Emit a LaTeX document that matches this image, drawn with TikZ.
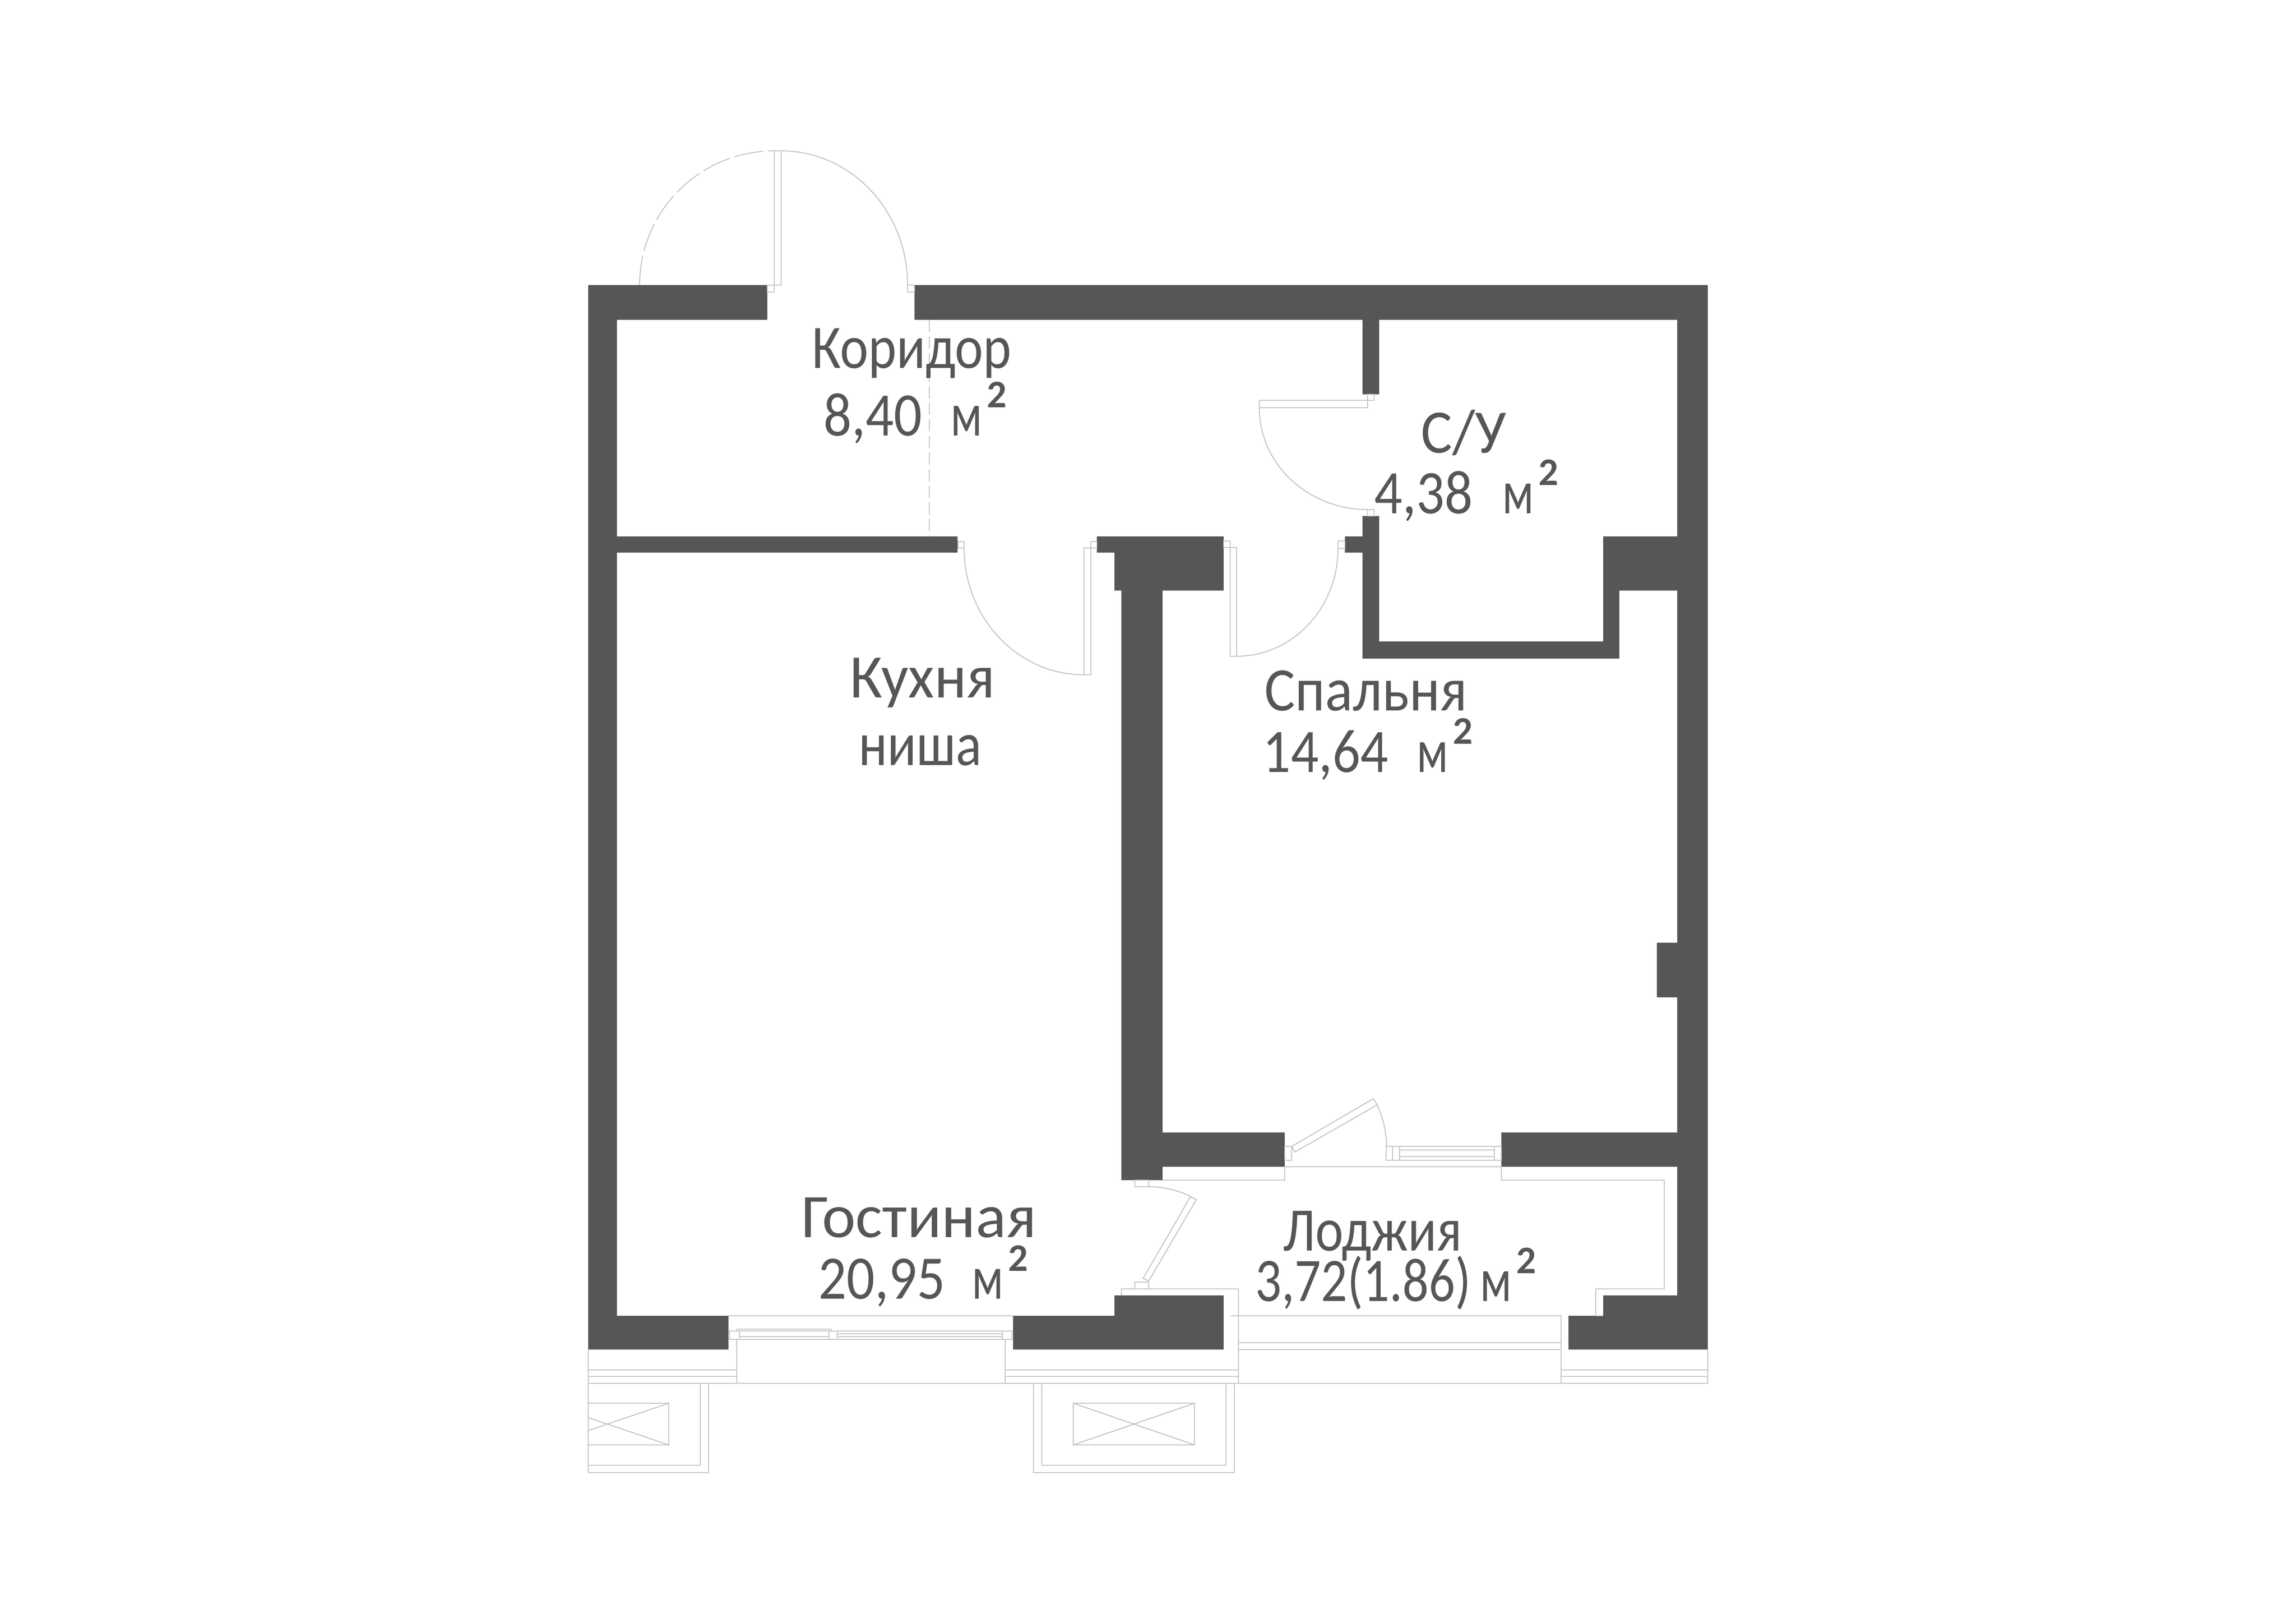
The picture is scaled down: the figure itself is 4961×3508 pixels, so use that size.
\documentclass[tikz,border=0pt]{standalone}
\usepackage{fontspec}
\usepackage{graphicx}
\setmainfont{Carlito}
\definecolor{wallgray}{HTML}{565656}
\definecolor{hairgray}{HTML}{C4C4C4}
\newcommand{\squeeze}[2]{\scalebox{#1}[1]{#2}}
\newcommand{\kvm}{\squeeze{.75}{м}\hspace{0.1cm}\raisebox{0.6cm}{\fontsize{24}{24}\selectfont\bfseries 2}}
\tikzstyle{wall} = [fill=wallgray, draw=none]
\tikzstyle{hair} = [draw=hairgray, line width=0.6pt, line join=miter]
\tikzstyle{room} = [text=wallgray, inner sep=0pt, anchor=base west, font=\fontsize{38}{38}\selectfont]

\begin{document}
\begin{tikzpicture}[x=0.01cm, y=-0.01cm]
\useasboundingbox (0,0) rectangle (4961,3508);

\foreach \xa/\ya/\xb/\yb in {
    1271/616/1658/691, 1976/616/3690/691, 1271/616/1333/2916, 3624/616/3690/2916,
    1333/1159/2069/1194, 2370/1159/2408/1194, 2408/1159/2644/1276, 2423/1276/2512/2550,
    2906/1159/2944/1194, 2944/691/2980/852, 2944/1115/2980/1423, 2944/1386/3499/1423,
    3464/1276/3499/1423, 3464/1159/3690/1276, 3580/2037/3624/2155,
    2512/2447/2776/2521, 3244/2447/3624/2521,
    1271/2843/1574/2916, 2189/2843/2408/2916, 2408/2799/2644/2916,
    3389/2843/3690/2916, 3464/2799/3690/2916}
    \fill[wall] (\xa,\ya) rectangle (\xb,\yb);

\foreach \xa/\ya/\xb/\yb in {
    1673/326/1688/616, 1658/616/1673/631, 1961/616/1976/631,
    2070/1170/2083/1184, 2342/1184/2357/1458, 2357/1170/2370/1184,
    2955/852/2969/865, 2721/865/2955/881, 2955/1101/2969/1115,
    2891/1169/2906/1185, 2644/1169/2658/1183, 2658/1183/2672/1418,
    2776/2477/2791/2507, 2995/2477/3244/2507, 3009/2477/3024/2507, 3229/2477/3244/2507,
    2452/2550/2482/2564, 2452/2770/2482/2785,
    1576/2876/1598/2894, 1791/2876/1809/2894, 2166/2876/2187/2894,
    2676/2843/3373/2989, 2319/3032/2581/3122}
    \draw[hair] (\xa,\ya) rectangle (\xb,\yb);

\draw[hair, dash pattern=on 18pt off 3pt] (1382,616) arc [start angle=180, end angle=270, x radius=291, y radius=290];
\draw[hair] (1688,326) arc [start angle=270, end angle=360, x radius=273, y radius=290];
\draw[hair] (2083,1184) arc [start angle=180, end angle=90, x radius=259, y radius=274];
\draw[hair] (2721,881) arc [start angle=180, end angle=90, x radius=234, y radius=220];
\draw[hair] (2891,1185) arc [start angle=0, end angle=90, x radius=219, y radius=233];
\draw[hair] (2975,2387) arc [start angle=-26, end angle=0, radius=205];
\draw[hair] (2482,2564) arc [start angle=-90, end angle=-63.4, radius=204];

\draw[hair, dash pattern=on 7.4pt off 2.8pt] (2008,691) -- (2008,1159);

\draw[hair] (2791,2477) -- (2967,2374) -- (2976,2387) -- (2798,2489) -- cycle;
\draw[hair] (2572,2586) -- (2585,2592) -- (2482,2768) -- (2470,2762) -- cycle;

\draw[hair] (2423,2799) -- (2423,2785) -- (2676,2785) -- (2676,2843) -- (2659,2843);
\draw[hair] (2512,2550) -- (2776,2550) -- (2776,2521) -- (3244,2521) -- (3244,2550)
    -- (3596,2550) -- (3596,2785) -- (3448,2785) -- (3448,2843) -- (3464,2843);
\draw[hair] (3024,2485) -- (3229,2485) (3024,2499) -- (3229,2499);
\draw[hair] (2676,2901) -- (3373,2901) (2676,2916) -- (3373,2916);

\draw[hair] (1574,2843) -- (2189,2843);
\draw[hair] (1592,2876) -- (1592,2872) -- (1796,2872) -- (1796,2876);
\foreach \yy in {2876,2888,2894}
    \draw[hair] (1598,\yy) -- (1791,\yy);
\foreach \yy in {2876,2882,2888,2894}
    \draw[hair] (1809,\yy) -- (2166,\yy);
\draw[hair] (1592,2894) -- (1592,2989) (2172,2894) -- (2172,2989);

\foreach \yy in {2960,2974,2989} {
    \draw[hair] (1271,\yy) -- (1592,\yy);
    \draw[hair] (2172,\yy) -- (2676,\yy);
    \draw[hair] (3373,\yy) -- (3690,\yy);
}
\draw[hair] (1592,2989) -- (2172,2989);
\draw[hair] (3690,2916) -- (3690,2989);

\draw[hair] (1271,2916) -- (1271,3182) -- (1531,3182) -- (1531,2989);
\draw[hair] (1271,3166) -- (1513,3166) -- (1513,2989);
\draw[hair] (1271,3032) -- (1445,3032) -- (1445,3122) -- (1271,3122);
\draw[hair] (1445,3032) -- (1271,3091) (1445,3122) -- (1271,3063);

\draw[hair] (2233,2989) -- (2233,3182) -- (2667,3182) -- (2667,2989);
\draw[hair] (2251,2989) -- (2251,3166) -- (2649,3166) -- (2649,2989);
\draw[hair] (2319,3032) -- (2581,3122) (2581,3032) -- (2319,3122);

\node[room] (koridor) at (1754,795) {\squeeze{.865}{Коридор}};
\node[room] (koridorarea) at (1779,941) {\squeeze{.9}{8,40}\hspace{0.62cm}\kvm};
\node[room] (su) at (3070,978) {\squeeze{.95}{С/У}};
\node[room] (suarea) at (2969,1109) {\squeeze{.9}{4,38}\hspace{0.64cm}\kvm};
\node[room] (kuhnya) at (1836,1507) {\squeeze{.97}{Кухня}};
\node[room] (nisha) at (1855,1653) {\squeeze{.87}{ниша}};
\node[room] (spalnya) at (2732,1535) {\squeeze{.93}{Спальня}};
\node[room] (spalnyaarea) at (2728,1668) {\squeeze{.89}{14,64}\hspace{0.62cm}\kvm};
\node[room] (gostinaya) at (1731,2673) {\squeeze{1.03}{Гостиная}};
\node[room] (gostinayaarea) at (1768,2806) {\squeeze{.9}{20,95}\hspace{0.58cm}\kvm};
\node[room] (lodzhiya) at (2772,2702) {\squeeze{.857}{Лоджия}};
\node[room] (lodzhiyaarea) at (2712,2811) {\squeeze{.84}{3,72(1.86)}\hspace{0.2cm}\kvm};
\end{tikzpicture}
\end{document}
